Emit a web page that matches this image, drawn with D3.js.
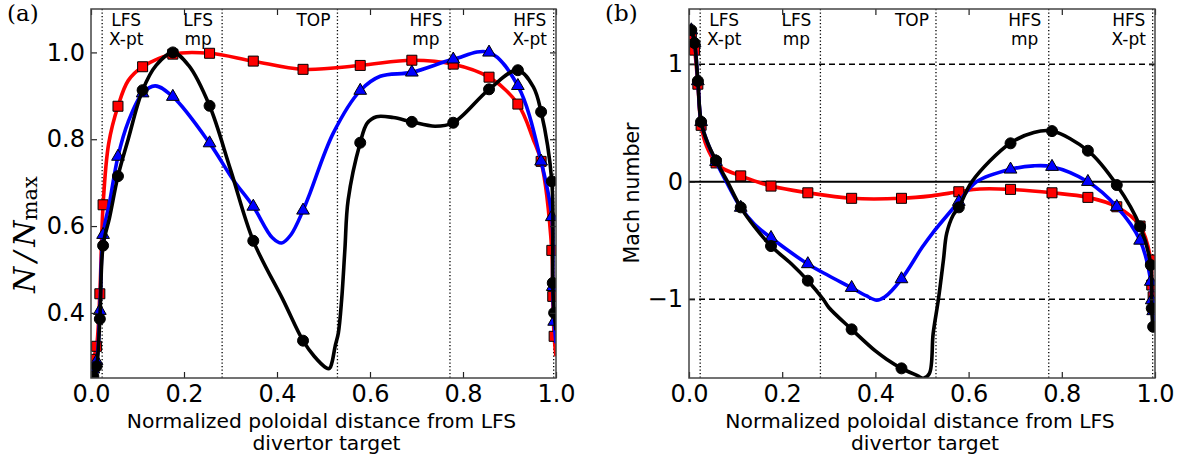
<!DOCTYPE html>
<html>
<head>
<meta charset="utf-8">
<script src="https://cdn.jsdelivr.net/npm/d3@7"></script>
<style>
body { margin: 0; background: #fff; }
text { font-family: "DejaVu Sans", sans-serif; }
</style>
</head>
<body>
<script>
// x positions of the markers (shared by all runs)
var markX = [0.005, 0.012, 0.019, 0.026, 0.058, 0.111, 0.176, 0.255, 0.349, 0.456,
             0.579, 0.690, 0.779, 0.856, 0.918, 0.968, 0.991, 0.993, 0.996];

// (a) normalized density, marker values
var densRedM   = [0.293, 0.323, 0.444, 0.649, 0.876, 0.967, 0.996, 0.998, 0.980, 0.961,
                  0.970, 0.982, 0.973, 0.943, 0.881, 0.749, 0.544, 0.438, 0.346];
var densBlueM  = [0.270, 0.289, 0.405, 0.580, 0.760, 0.906, 0.898, 0.791, 0.645, 0.636,
                  0.912, 0.954, 0.984, 1.000, 0.923, 0.749, 0.621, 0.460, 0.380];
var densBlackM = [0.254, 0.277, 0.386, 0.555, 0.715, 0.913, 1.000, 0.877, 0.566, 0.336,
                  0.792, 0.840, 0.838, 0.915, 0.959, 0.863, 0.703, 0.469, 0.400];

// (a) smooth profiles [x, N/Nmax]
var densRed = [[0,0.27],[0.005,0.293],[0.012,0.323],[0.019,0.444],[0.026,0.649],[0.038,0.79],
  [0.058,0.876],[0.08,0.935],[0.111,0.967],[0.176,0.996],[0.255,0.998],[0.349,0.980],[0.456,0.961],
  [0.579,0.970],[0.690,0.982],[0.779,0.973],[0.856,0.943],[0.918,0.881],[0.951,0.80],[0.968,0.749],
  [0.991,0.544],[0.993,0.438],[0.996,0.346],[1.0,0.30]];
var densBlue = [[0,0.25],[0.005,0.27],[0.012,0.289],[0.019,0.405],[0.026,0.58],[0.04,0.655],
  [0.058,0.760],[0.08,0.84],[0.111,0.906],[0.138,0.923],[0.176,0.898],[0.255,0.791],[0.306,0.706],
  [0.349,0.645],[0.39,0.573],[0.41,0.561],[0.43,0.58],[0.456,0.636],[0.471,0.676],[0.521,0.814],
  [0.579,0.912],[0.622,0.945],[0.690,0.954],[0.779,0.984],[0.856,1.0],[0.918,0.923],[0.968,0.749],
  [0.991,0.621],[0.993,0.46],[0.996,0.38],[1.0,0.33]];
var densBlack = [[0,0.24],[0.005,0.254],[0.012,0.277],[0.019,0.386],[0.026,0.555],[0.04,0.62],
  [0.058,0.715],[0.08,0.80],[0.111,0.913],[0.14,0.97],[0.176,1.0],[0.21,0.97],[0.255,0.877],
  [0.30,0.73],[0.349,0.566],[0.413,0.43],[0.456,0.336],[0.48,0.30],[0.505,0.274],[0.513,0.272],
  [0.518,0.285],[0.525,0.323],[0.532,0.354],[0.539,0.43],[0.546,0.546],[0.553,0.66],[0.579,0.792],
  [0.594,0.837],[0.614,0.852],[0.65,0.85],[0.690,0.840],[0.74,0.83],[0.779,0.838],[0.856,0.915],
  [0.918,0.959],[0.951,0.921],[0.968,0.863],[0.991,0.703],[0.993,0.469],[0.996,0.40],[1.0,0.36]];

// (b) Mach number, marker values
var machRedM   = [1.25, 1.12, 0.83, 0.48, 0.16, 0.05, -0.037, -0.094, -0.141, -0.141,
                  -0.085, -0.065, -0.094, -0.133, -0.213, -0.377, -0.666, -0.879, -0.979];
var machBlueM  = [1.29, 1.18, 0.857, 0.51, 0.17, -0.22, -0.477, -0.70, -0.902, -0.828,
                  -0.17, 0.105, 0.128, 0.0, -0.213, -0.50, -0.85, -1.007, -1.10];
var machBlackM = [1.29, 1.18, 0.857, 0.51, 0.18, -0.218, -0.547, -0.842, -1.256, -1.588,
                  -0.218, 0.327, 0.431, 0.264, -0.028, -0.38, -0.709, -1.077, -1.234];

// (b) smooth profiles [x, M]
var machRed = [[0,1.30],[0.005,1.25],[0.012,1.12],[0.019,0.83],[0.026,0.48],[0.038,0.30],
  [0.058,0.16],[0.074,0.11],[0.111,0.05],[0.176,-0.037],[0.255,-0.094],[0.349,-0.141],[0.456,-0.141],
  [0.52,-0.12],[0.579,-0.085],[0.624,-0.062],[0.690,-0.065],[0.779,-0.094],[0.856,-0.133],
  [0.918,-0.213],[0.968,-0.377],[0.991,-0.666],[0.993,-0.879],[0.996,-0.979],[0.999,-1.1]];
var machBlue = [[0,1.33],[0.005,1.29],[0.012,1.18],[0.019,0.857],[0.026,0.51],[0.04,0.33],
  [0.058,0.17],[0.08,0.0],[0.111,-0.22],[0.14,-0.36],[0.176,-0.477],[0.255,-0.70],[0.30,-0.80],
  [0.349,-0.902],[0.38,-0.97],[0.403,-1.007],[0.42,-0.98],[0.456,-0.828],[0.50,-0.56],[0.524,-0.43],
  [0.579,-0.17],[0.617,0.0],[0.689,0.105],[0.739,0.135],[0.779,0.128],[0.856,0.0],[0.918,-0.213],
  [0.968,-0.50],[0.991,-0.85],[0.993,-1.007],[0.996,-1.10],[0.999,-1.2]];
var machBlack = [[0,1.33],[0.005,1.29],[0.012,1.18],[0.019,0.857],[0.026,0.51],[0.04,0.33],
  [0.058,0.18],[0.08,0.02],[0.111,-0.218],[0.14,-0.38],[0.176,-0.547],[0.22,-0.70],[0.255,-0.842],
  [0.288,-1.0],[0.30,-1.07],[0.349,-1.256],[0.40,-1.44],[0.424,-1.51],[0.456,-1.588],[0.49,-1.65],
  [0.503,-1.673],[0.516,-1.63],[0.524,-1.29],[0.535,-1.007],[0.546,-0.666],[0.553,-0.44],
  [0.567,-0.283],[0.579,-0.218],[0.607,0.0],[0.689,0.327],[0.74,0.42],[0.779,0.431],[0.856,0.264],
  [0.918,-0.028],[0.968,-0.38],[0.991,-0.709],[0.993,-1.077],[0.996,-1.234],[0.999,-1.27]];

// divertor / midplane / top locations and their labels
var regionX = [0.024, 0.282, 0.530, 0.772, 0.995];
var regionLabels = [['LFS', 'X-pt'], ['LFS', 'mp'], ['TOP'], ['HFS', 'mp'], ['HFS', 'X-pt']];

var xTicks = [0, 0.2, 0.4, 0.6, 0.8, 1.0];
var densTicks = [0.4, 0.6, 0.8, 1.0];
var machTicks = [-1, 0, 1];
var machRefs = [-1, 0, 1];

var w = 1188;
var h = 462;
var yTop = 9, yBottom = 378;

var svg = d3.select('body')
    .append('svg')
    .attr('width', w)
    .attr('height', h);

function drawPanel(p) {
    var x = d3.scaleLinear().domain([0, 1]).range([p.left, p.right]);
    var y = d3.scaleLinear().domain(p.ydom).range([yBottom, yTop]);

    svg.append('clipPath').attr('id', 'clip' + p.id)
        .append('rect')
        .attr('x', p.left).attr('y', yTop)
        .attr('width', p.right - p.left).attr('height', yBottom - yTop);

    var plot = svg.append('g').attr('clip-path', 'url(#clip' + p.id + ')');

    // dotted region lines
    plot.selectAll('.reg')
        .data(regionX)
        .enter()
        .append('line')
        .attr('x1', function(d){ return x(d); })
        .attr('x2', function(d){ return x(d); })
        .attr('y1', yTop).attr('y2', yBottom)
        .attr('stroke', '#000')
        .attr('stroke-width', 1.3)
        .attr('stroke-dasharray', '1.3,2.2');

    // reference lines (Mach panel)
    if (p.refs) {
        plot.selectAll('.ref')
            .data(p.refs)
            .enter()
            .append('line')
            .attr('x1', p.left).attr('x2', p.right)
            .attr('y1', function(d){ return y(d); })
            .attr('y2', function(d){ return y(d); })
            .attr('stroke', '#000')
            .attr('stroke-width', function(d){ return d === 0 ? 2 : 1.5; })
            .attr('stroke-dasharray', function(d){ return d === 0 ? null : '6,4'; });
    }

    var line = d3.line()
        .x(function(d){ return x(d[0]); })
        .y(function(d){ return y(d[1]); })
        .curve(d3.curveCatmullRom.alpha(0.5));

    p.series.forEach(function(s) {
        plot.append('path')
            .attr('d', line(s.curve))
            .attr('fill', 'none')
            .attr('stroke', s.color)
            .attr('stroke-width', 3.6)
            .attr('stroke-linejoin', 'round');
        plot.selectAll(null)
            .data(s.marks)
            .enter()
            .append('path')
            .attr('d', d3.symbol().type(s.symbol).size(s.size))
            .attr('transform', function(d, i){
                return 'translate(' + x(markX[i]) + ',' + y(d) + ')';
            })
            .attr('fill', s.color)
            .attr('stroke', '#000')
            .attr('stroke-width', 1);
    });

    // labels of the regions
    regionX.forEach(function(r, i) {
        var cx = x(r) + (i === 0 ? 24 : -24);
        regionLabels[i].forEach(function(t, j) {
            svg.append('text')
                .attr('x', cx)
                .attr('y', 25.5 + j * 19.5)
                .attr('text-anchor', 'middle')
                .attr('font-size', '17px')
                .text(t);
        });
    });

    // axes, ticks inward on all four sides
    var gb = svg.append('g').attr('transform', 'translate(0,' + yBottom + ')')
        .call(d3.axisBottom(x).tickValues(xTicks).tickFormat(d3.format('.1f'))
            .tickSizeInner(-6).tickSizeOuter(0).tickPadding(7));
    var gt = svg.append('g').attr('transform', 'translate(0,' + yTop + ')')
        .call(d3.axisTop(x).tickValues(xTicks).tickFormat('')
            .tickSizeInner(-6).tickSizeOuter(0));
    var gl = svg.append('g').attr('transform', 'translate(' + p.left + ',0)')
        .call(d3.axisLeft(y).tickValues(p.yticks).tickFormat(p.yfmt)
            .tickSizeInner(-6).tickSizeOuter(0).tickPadding(6));
    var gr = svg.append('g').attr('transform', 'translate(' + p.right + ',0)')
        .call(d3.axisRight(y).tickValues(p.yticks).tickFormat('')
            .tickSizeInner(-6).tickSizeOuter(0));
    [gb, gt, gl, gr].forEach(function(g) {
        g.select('.domain').remove();
        g.selectAll('line').attr('stroke', '#222').attr('stroke-width', 1.2);
        g.selectAll('text')
            .attr('fill', '#000')
            .style('font-family', '"DejaVu Sans", sans-serif')
            .style('font-size', '24px');
    });

    svg.append('rect')
        .attr('x', p.left).attr('y', yTop)
        .attr('width', p.right - p.left).attr('height', yBottom - yTop)
        .attr('fill', 'none')
        .attr('stroke', '#444')
        .attr('stroke-width', 1.5);

    // x label (two lines)
    var xl = svg.append('text')
        .attr('text-anchor', 'middle')
        .attr('font-size', '20.3px');
    xl.append('tspan').attr('x', (p.left + p.right) / 2 - 2).attr('y', 427.5)
        .text('Normalized poloidal distance from LFS');
    xl.append('tspan').attr('x', (p.left + p.right) / 2 + 3).attr('y', 450)
        .text('divertor target');

    // panel letter
    svg.append('text')
        .attr('x', p.left - 84).attr('y', 20.5)
        .style('font-family', '"DejaVu Serif", serif')
        .attr('font-size', '23px')
        .text(p.letter);
}

drawPanel({
    id: 'a', letter: '(a)', left: 91, right: 556,
    ydom: [0.25, 1.1], yticks: densTicks, yfmt: d3.format('.1f'),
    series: [
        {curve: densRed, marks: densRedM, color: '#ff0000', symbol: d3.symbolSquare, size: 100},
        {curve: densBlue, marks: densBlueM, color: '#0000ff', symbol: d3.symbolTriangle, size: 70},
        {curve: densBlack, marks: densBlackM, color: '#000000', symbol: d3.symbolCircle, size: 95}
    ]
});

drawPanel({
    id: 'b', letter: '(b)', left: 689, right: 1155,
    ydom: [-1.67, 1.47], yticks: machTicks, yfmt: d3.format('d'), refs: machRefs,
    series: [
        {curve: machRed, marks: machRedM, color: '#ff0000', symbol: d3.symbolSquare, size: 100},
        {curve: machBlue, marks: machBlueM, color: '#0000ff', symbol: d3.symbolTriangle, size: 70},
        {curve: machBlack, marks: machBlackM, color: '#000000', symbol: d3.symbolCircle, size: 95}
    ]
});

// y labels
var yl = svg.append('text')
    .attr('transform', 'translate(35,293) rotate(-90)')
    .style('font-family', '"DejaVu Serif", serif')
    .attr('font-size', '30px');
yl.append('tspan').style('font-style', 'italic').text('N');
yl.append('tspan').attr('dx', 5).style('font-style', 'italic').text('/');
yl.append('tspan').attr('dx', 5).style('font-style', 'italic').text('N');
yl.append('tspan').attr('dy', 2).attr('font-size', '21px').text('max');

svg.append('text')
    .attr('transform', 'translate(639,193) rotate(-90)')
    .attr('text-anchor', 'middle')
    .attr('font-size', '20.5px')
    .text('Mach number');
</script>
</body>
</html>
